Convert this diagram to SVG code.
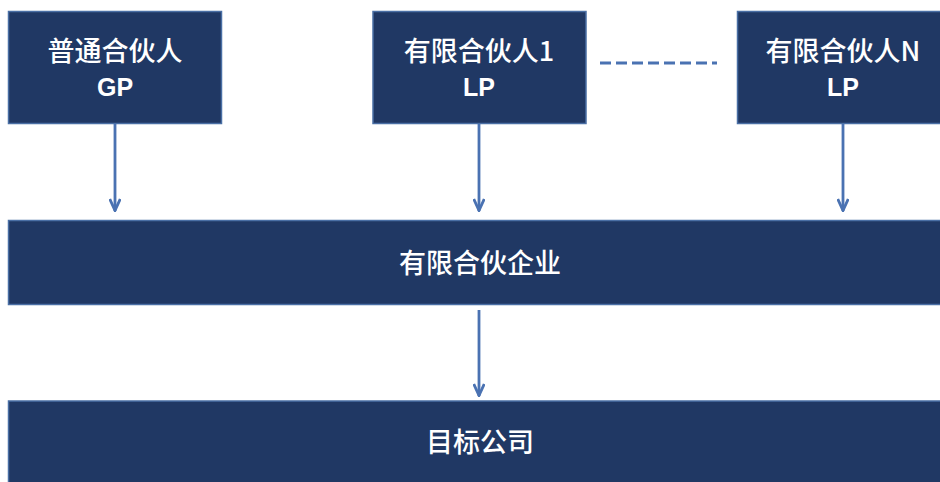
<svg xmlns="http://www.w3.org/2000/svg" width="940" height="482" viewBox="0 0 940 482">
<defs>
<style>
.box{fill:#203864;stroke:#4a6fa5;stroke-width:1.5}
.t{fill:#ffffff;font-family:"Noto Sans CJK SC","Noto Sans",sans-serif;font-weight:500;font-size:27px;text-anchor:middle}
.l{fill:#ffffff;font-family:"Liberation Sans Narrow","Liberation Sans",sans-serif;font-weight:bold;font-size:25px;text-anchor:middle}
.c{stroke:#4a72b2;stroke-width:2.8;fill:none}
</style>
<marker id="ah" viewBox="0 0 14 12" refX="13" refY="6" markerWidth="14" markerHeight="12" markerUnits="userSpaceOnUse" orient="auto">
<path d="M1,0.8 L12.5,6 L1,11.2" fill="none" stroke="#4a72b2" stroke-width="2.8" stroke-linejoin="miter"/>
</marker>
</defs>
<rect width="940" height="482" fill="#ffffff"/>
<g id="gp">
<rect class="box" x="8.5" y="11.5" width="213" height="112"/>
<text class="t" x="115" y="61">普通合伙人</text>
<text class="l" x="115" y="95.5">GP</text>
</g>
<g id="lp1">
<rect class="box" x="373" y="11.5" width="213" height="112"/>
<text class="t" x="479" y="61">有限合伙人1</text>
<text class="l" x="479" y="95.5">LP</text>
</g>
<g id="lpn">
<rect class="box" x="737.5" y="11.5" width="213" height="112"/>
<text class="t" x="843" y="61">有限合伙人N</text>
<text class="l" x="843" y="95.5">LP</text>
</g>
<g id="partnership">
<rect class="box" x="8.5" y="220.5" width="945" height="84"/>
<text class="t" x="480" y="273">有限合伙企业</text>
</g>
<g id="target">
<rect class="box" x="8.5" y="401" width="945" height="90"/>
<text class="t" x="480" y="452">目标公司</text>
</g>
<g id="connectors">
<line class="c" x1="115" y1="124" x2="115" y2="211" marker-end="url(#ah)"/>
<line class="c" x1="479" y1="124" x2="479" y2="211" marker-end="url(#ah)"/>
<line class="c" x1="843" y1="124" x2="843" y2="211" marker-end="url(#ah)"/>
<line class="c" x1="479" y1="310" x2="479" y2="396" marker-end="url(#ah)"/>
<line class="c" x1="600" y1="63" x2="717" y2="63" stroke-width="3" stroke-dasharray="11,5"/>
</g>
</svg>
